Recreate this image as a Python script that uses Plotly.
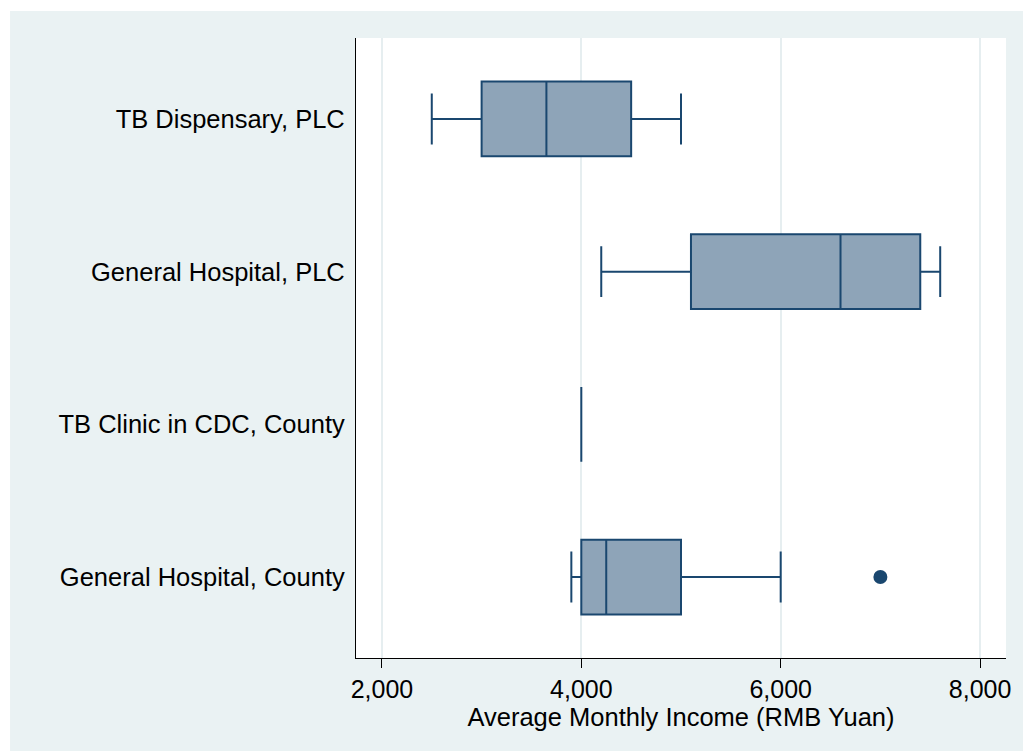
import plotly.graph_objects as go

# Facility types (top to bottom) and their income distribution summaries
categories = [
    "TB Dispensary, PLC",
    "General Hospital, PLC",
    "TB Clinic in CDC, County",
    "General Hospital, County",
]
lower_adj = [2500, 4200, 4000, 3900]
q1_vals = [3000, 5100, 4000, 4000]
median_vals = [3650, 6600, 4000, 4250]
q3_vals = [4500, 7400, 4000, 5000]
upper_adj = [5000, 7600, 4000, 6000]

# Values beyond the adjacent values
outlier_cats = ["General Hospital, County"]
outlier_vals = [7000]

x_ticks = [2000, 4000, 6000, 8000]
x_tick_text = ["2,000", "4,000", "6,000", "8,000"]

NAVY = "#1A476F"
FILL = "#8EA4B8"
BG = "#EAF2F3"
FONT = "Liberation Sans, Arial, sans-serif"

fig = go.Figure()

fig.add_trace(go.Box(
    y=categories,
    q1=q1_vals,
    median=median_vals,
    q3=q3_vals,
    lowerfence=lower_adj,
    upperfence=upper_adj,
    orientation="h",
    width=0.49,
    whiskerwidth=0.68,
    fillcolor=FILL,
    line=dict(color=NAVY, width=2),
    boxpoints=False,
    showlegend=False,
))

fig.add_trace(go.Scatter(
    x=outlier_vals,
    y=outlier_cats,
    mode="markers",
    marker=dict(color=NAVY, size=14, symbol="circle"),
    showlegend=False,
))

W, H = 1023, 751
L, R, T, B = 356, 15, 38, 93
pw, ph = W - L - R, H - T - B

# White strips framing the shaded chart region (top and left edges)
fig.add_shape(type="rect", xref="paper", yref="paper", layer="below",
              x0=-L / pw - 0.05, x1=(W - L) / pw + 0.05,
              y0=1 + (T - 11) / ph, y1=1 + T / ph + 0.05,
              fillcolor="white", line=dict(width=0))
fig.add_shape(type="rect", xref="paper", yref="paper", layer="below",
              x0=-L / pw - 0.05, x1=-(L - 9) / pw,
              y0=-B / ph - 0.05, y1=1 + T / ph + 0.05,
              fillcolor="white", line=dict(width=0))

fig.update_layout(
    width=W,
    height=H,
    margin=dict(l=L, r=R, t=T, b=B),
    paper_bgcolor=BG,
    plot_bgcolor="white",
    font=dict(family=FONT, size=25, color="black"),
    xaxis=dict(
        range=[1740, 8260],
        tickvals=x_ticks,
        ticktext=x_tick_text,
        showgrid=True,
        gridcolor="#E6EEF0",
        gridwidth=2,
        zeroline=False,
        showline=True,
        linecolor="black",
        linewidth=1.3,
        ticks="outside",
        ticklen=9,
        tickwidth=1.3,
        tickcolor="black",
        tickfont=dict(size=25),
        title=dict(text="Average Monthly Income (RMB Yuan)", font=dict(size=25.5), standoff=2),
    ),
    yaxis=dict(
        type="category",
        categoryorder="array",
        categoryarray=categories,
        range=[3.53, -0.53],
        showgrid=False,
        zeroline=False,
        showline=True,
        linecolor="black",
        linewidth=1.3,
        ticks="",
        ticklabelstandoff=5,
        tickfont=dict(size=25.5),
    ),
)

fig.write_html("out.html")
